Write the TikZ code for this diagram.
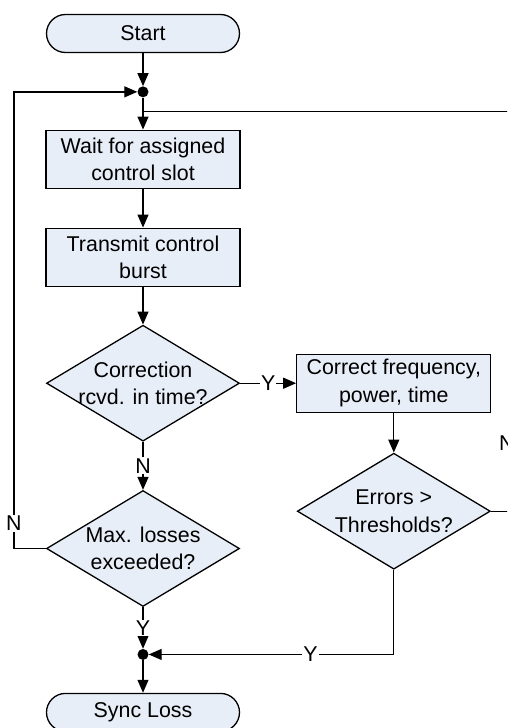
\documentclass[tikz,border=0pt]{standalone}
\usepackage{fontspec}
\setmainfont{Liberation Sans}
\usetikzlibrary{positioning, arrows.meta, shapes.geometric}
\definecolor{FCfill}{RGB}{232, 238, 247}
\newcommand{\fcfont}{\fontsize{21.4}{27.5}\selectfont}
\tikzset{
  proc/.style={rectangle, draw, line width=1.3pt, fill=FCfill, minimum width=194pt,
    minimum height=58pt, align=center, inner sep=2pt, font=\fcfont},
  term/.style={proc, rounded corners=19pt, minimum width=193pt, minimum height=38pt},
  dec/.style={diamond, draw, line width=1.3pt, fill=FCfill, aspect=1.65, minimum width=193pt,
    minimum height=116pt, inner sep=-18pt, align=center, font=\fcfont},
  jdot/.style={circle, fill=black, inner sep=0pt, minimum size=11pt},
  conn/.style={line width=1.3pt},
  flow/.style={conn, -{Triangle[length=13pt, width=11pt]}},
  yn/.style={fill=white, inner sep=1pt, font=\fcfont},
}
\begin{document}
\begin{tikzpicture}[x=1pt, y=-1pt]
    \useasboundingbox (0,0) rectangle (507,728);
    \clip (0,0) rectangle (507,728);
    \node[term] (start) at (143,33.5) {Start};
    \node[jdot, below=33pt of start] (j1) {};
    \coordinate[below=14pt of j1] (jr);
    \node[proc, below=32pt of j1] (wait) {Wait for assigned\\control slot};
    \node[proc, below=38.7pt of wait] (send) {Transmit control\\burst};
    \node[dec, below=37.7pt of send] (corr) {Correction\\rcvd. in time?};
    \node[proc, right=56pt of corr] (fix) {Correct frequency,\\power, time};
    \node[dec, below=39.7pt of fix] (err) {Errors >\\Thresholds?};
    \node[dec, below=48pt of corr] (maxl) {Max. losses\\exceeded?};
    \node[jdot, below=41.6pt of maxl] (j2) {};
    \node[term, below=32.6pt of j2] (sync) {Sync Loss};
    \draw[flow] (start) -- (j1);
    \draw[flow] (j1) -- (wait);
    \draw[flow] (wait) -- (send);
    \draw[flow] (send) -- (corr);
    \draw[flow] (corr) -- node[yn]{Y} (fix);
    \draw[flow] (fix) -- (err);
    \draw[flow] (corr) -- node[yn]{N} (maxl);
    \draw[flow] (maxl) -- node[yn]{Y} (j2);
    \draw[flow] (j2) -- (sync);
    \draw[flow] (err.south) |- node[yn, pos=0.67]{Y} (j2);
    \draw[flow] (maxl.west) -- ++(-32,0) coordinate (lft) -- node[yn, pos=0.055]{N} (lft |- j1) -- (j1);
    \draw[conn] (err.east) -- ++(22,0) coordinate (rgt) -- node[yn, pos=0.17, xshift=-6pt]{N} (rgt |- jr) -- (jr);
\end{tikzpicture}
\end{document}
